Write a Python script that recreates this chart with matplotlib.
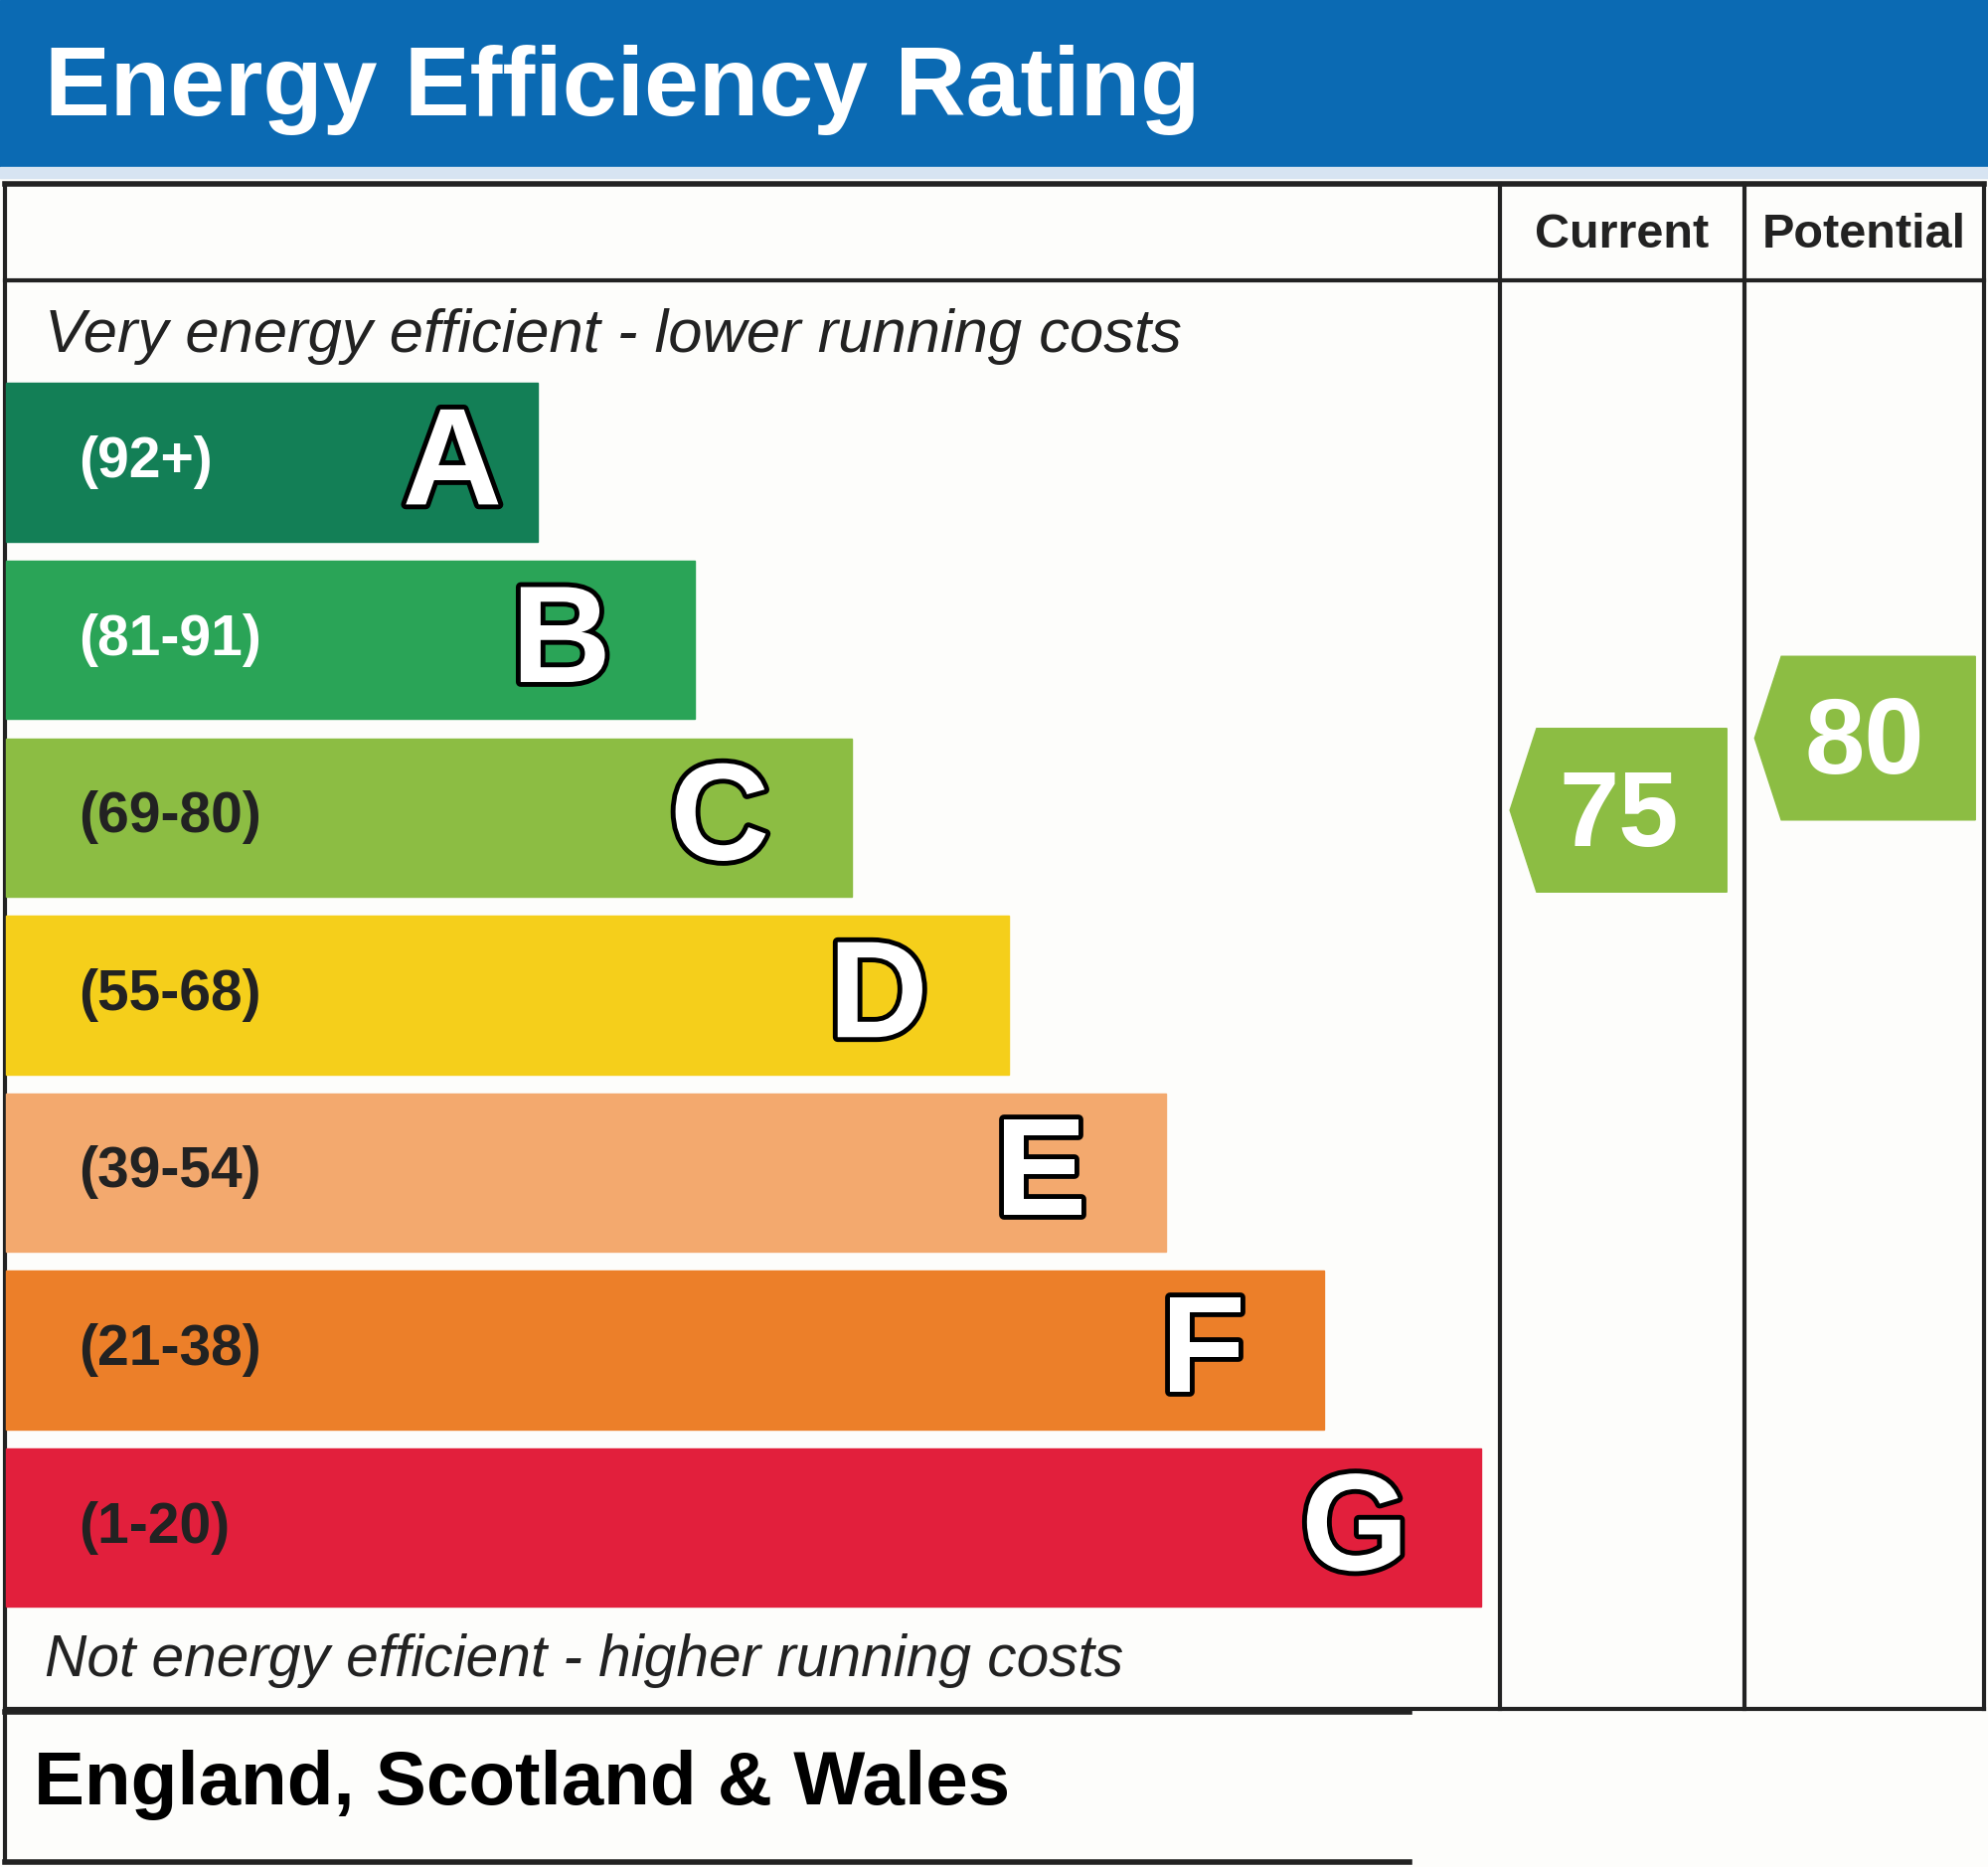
import matplotlib
matplotlib.use("Agg")
import matplotlib.pyplot as plt
import matplotlib.patheffects as pe
from matplotlib.patches import Rectangle, Polygon

# ------------------ Data ------------------ #
bands = ["A", "B", "C", "D", "E", "F", "G"]
band_ranges = ["(92+)", "(81-91)", "(69-80)", "(55-68)", "(39-54)", "(21-38)", "(1-20)"]
band_lo = [92, 81, 69, 55, 39, 21, 1]
band_hi = [100, 91, 80, 68, 54, 38, 20]
band_colors = ["#137f56", "#2aa457", "#8cbd43", "#f5cf1b", "#f3a96e", "#ec7f29", "#e21f3c"]
range_text_colors = ["white", "white", "#222222", "#222222", "#222222", "#222222", "#222222"]

current_rating = 75
potential_rating = 80

title = "Energy Efficiency Rating"
top_note = "Very energy efficient - lower running costs"
bottom_note = "Not energy efficient - higher running costs"
region = "England, Scotland & Wales"

# ------------------ Layout (drawing units, y down) ------------------ #
W, H = 1568, 1472
FONT = "Liberation Sans"
LEFT, RIGHT = 4, 1565
TABLE_TOP, HEAD_BOT, TABLE_BOT = 145, 221, 1347
COL1, COL2 = 1183, 1376
BAR_TOP0, BAR_H, BAR_STEP = 302, 125, 140
BAR_W0, BAR_DW = 419, 124
letter_pad = [28, 66, 65, 64, 63, 62, 57]

fig = plt.figure(figsize=(20, 18.78), dpi=100)
fig.patch.set_facecolor("#fdfdfb")
ax = fig.add_axes([0, 0, 1, 1])
ax.set_xlim(0, W)
ax.set_ylim(H, 0)
ax.axis("off")

# title banner
ax.add_patch(Rectangle((0, 0), W, 132, color="#0b6ab3", zorder=1))
ax.add_patch(Rectangle((0, 132), W, 8, color="#d7e4f2", zorder=1))
ax.text(35, 71, title, color="white", fontsize=71, fontweight="bold",
        family=FONT, va="center", ha="left")

# table frame
lw = 3
ax.plot([LEFT, RIGHT], [TABLE_TOP, TABLE_TOP], color="#222222", lw=lw + 1)
ax.plot([LEFT, RIGHT], [HEAD_BOT, HEAD_BOT], color="#222222", lw=lw)
ax.plot([LEFT, RIGHT], [TABLE_BOT, TABLE_BOT], color="#222222", lw=lw)
ax.plot([LEFT, LEFT], [TABLE_TOP, 1468], color="#222222", lw=lw)
ax.plot([RIGHT, RIGHT], [TABLE_TOP, TABLE_BOT], color="#222222", lw=lw)
ax.plot([COL1, COL1], [TABLE_TOP, TABLE_BOT], color="#222222", lw=lw)
ax.plot([COL2, COL2], [TABLE_TOP, TABLE_BOT], color="#222222", lw=lw)
ax.plot([LEFT, 1112], [1350, 1350], color="#222222", lw=lw + 1)
ax.plot([LEFT, 1112], [1468, 1468], color="#222222", lw=lw + 1)

ax.text((COL1 + COL2) / 2, 185, "Current", fontsize=35, fontweight="bold",
        family=FONT, ha="center", va="center", color="#222222")
ax.text((COL2 + RIGHT) / 2, 185, "Potential", fontsize=35, fontweight="bold",
        family=FONT, ha="center", va="center", color="#222222")

ax.text(35, 265, top_note, fontsize=44.3, style="italic", family=FONT,
        ha="left", va="center", color="#222222")
ax.text(35, 1309, bottom_note, fontsize=42.2, style="italic", family=FONT,
        ha="left", va="center", color="#222222")
ax.text(27, 1407, region, fontsize=55, fontweight="bold", family=FONT,
        ha="left", va="center", color="black")

# ------------------ Bands ------------------ #
outline = [pe.Stroke(linewidth=7, foreground="black"), pe.Normal()]
for i, (letter, rng) in enumerate(zip(bands, band_ranges)):
    top = BAR_TOP0 + i * BAR_STEP
    width = BAR_W0 + i * BAR_DW
    ax.add_patch(Rectangle((5, top), width, BAR_H, color=band_colors[i], zorder=2))
    ax.text(62, top + BAR_H / 2, rng, fontsize=41, fontweight="bold", family=FONT,
            color=range_text_colors[i], ha="left", va="center", zorder=3)
    ax.text(5 + width - letter_pad[i], top + BAR_H / 2 + 5, letter, fontsize=100,
            fontweight="bold", family=FONT, color="white", ha="right",
            va="center", zorder=3, path_effects=outline)


# ------------------ Rating arrows ------------------ #
def rating_arrow(score, x0, x1):
    i = next(k for k in range(len(bands)) if band_lo[k] <= score <= band_hi[k])
    top = BAR_TOP0 + i * BAR_STEP
    yc = top + (band_hi[i] - score) / (band_hi[i] - band_lo[i]) * BAR_H
    half = 64.5
    tip = x0 + 8
    body = tip + 21
    pts = [(tip, yc), (body, yc - half), (x1, yc - half), (x1, yc + half), (body, yc + half)]
    ax.add_patch(Polygon(pts, closed=True, color=band_colors[i], zorder=2))
    ax.text((tip + x1) / 2, yc + 6, str(score), fontsize=78, fontweight="bold",
            family=FONT, color="white", ha="center", va="center", zorder=3)


rating_arrow(current_rating, COL1, COL2 - 14)
rating_arrow(potential_rating, COL2, RIGHT - 7)

fig.savefig("out.png", dpi=100, facecolor=fig.get_facecolor())
